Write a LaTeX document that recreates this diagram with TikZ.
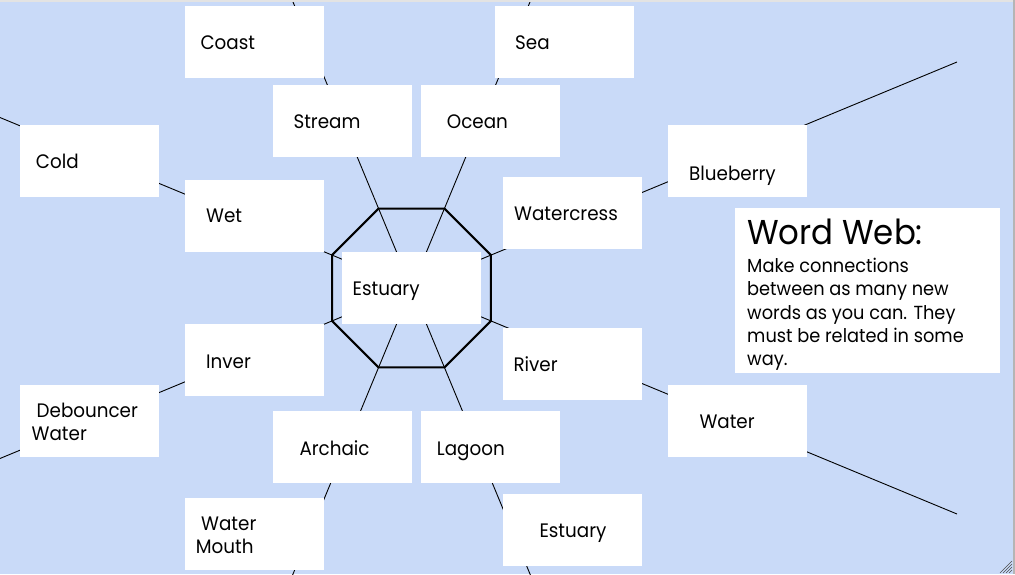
\documentclass[tikz,border=0pt]{standalone}
\usepackage{fontspec}
\setmainfont{Poppins}[FakeStretch=0.94]
\usetikzlibrary{shapes.geometric}
\definecolor{bgblue}{HTML}{C9DAF8}
\definecolor{topgray}{HTML}{E3E3E3}
\definecolor{sidegray}{HTML}{B5B5B5}
\tikzset{
  box/.style={fill=white, minimum width=139pt, minimum height=72pt, inner sep=0pt, outer sep=0pt},
  word/.style={anchor=base west, inner sep=0pt, text=black, font=\fontsize{19.5}{22.7}\selectfont},
  bodytext/.style={anchor=base west, inner sep=0pt, text=black, font=\fontsize{18.9}{23.2}\selectfont},
  titletext/.style={anchor=base west, inner sep=0pt, text=black, font=\fontsize{34.5}{40}\selectfont},
  spoke/.style={line width=0.9pt, black},
  octo/.style={draw=black, line width=2pt, regular polygon, regular polygon sides=8, minimum size=172pt, inner sep=0pt, outer sep=0pt},
  hatch/.style={line width=0.5pt, black!70},
}
\begin{document}
\begin{tikzpicture}[x=1pt,y=-1pt]
\useasboundingbox (0,0) rectangle (1015,574);
\fill[bgblue] (0,0) rectangle (1015,574);
\fill[topgray] (0,0) rectangle (1015,2);
\fill[sidegray] (1013,0) rectangle (1015,574);

% centre and spoke ends
\coordinate (c) at (411.5,288);
\coordinate (eNE) at (957,62);
\coordinate (eSE) at (957,514);
\coordinate (eNW) at (-134,62);
\coordinate (eSW) at (-134,514);
\coordinate (eNNW) at (185.5,-257.5);
\coordinate (eNNE) at (637.5,-257.5);
\coordinate (eSSW) at (185.5,833.5);
\coordinate (eSSE) at (637.5,833.5);

\begin{scope}
\clip (0,2) rectangle (1013,574);
\draw[spoke] (c) -- (eNE);
\draw[spoke] (c) -- (eSE);
\draw[spoke] (c) -- (eNW);
\draw[spoke] (c) -- (eSW);
\draw[spoke] (c) -- (eNNW);
\draw[spoke] (c) -- (eNNE);
\draw[spoke] (c) -- (eSSW);
\draw[spoke] (c) -- (eSSE);
\end{scope}

\node[octo] (oct) at (c) {};

% boxes
\node[box] (coast) at (254.5,42) {};
\node[box] (sea) at (564.5,42) {};
\node[box] (stream) at (342.5,120.5) {};
\node[box] (ocean) at (490.5,120.5) {};
\node[box] (cold) at (89.5,161) {};
\node[box] (wet) at (254.5,216) {};
\node[box] (watercress) at (572.5,212.5) {};
\node[box] (blueberry) at (737.5,161) {};
\node[box] (estuary) at (411.5,288) {};
\node[box] (inver) at (254.5,360) {};
\node[box] (river) at (572.5,364) {};
\node[box] (debouncer) at (89.5,421) {};
\node[box] (water) at (737.5,421) {};
\node[box] (archaic) at (342.5,447) {};
\node[box] (lagoon) at (490.5,447) {};
\node[box] (mouth) at (254.5,533.5) {};
\node[box] (estuary2) at (572.5,530) {};
\node[fill=white, minimum width=265pt, minimum height=165pt, inner sep=0pt] (info) at (867.5,290.5) {};

% texts
\node[word] (tcoast) at (200.3,49.3) {Coast};
\node[word] (tsea) at (515,49.3) {Sea};
\node[word] (tstream) at (293.3,128.3) {Stream};
\node[word] (tocean) at (446.7,128.3) {Ocean};
\node[word] (tcold) at (35.7,168.3) {Cold};
\node[word] (twet) at (206,222.7) {Wet};
\node[word] (tblue) at (689,180) {Blueberry};
\node[word] (twcress) at (514,220) {Watercress};
\node[word] (test) at (352.5,295) {Estuary};
\node[word] (tinver) at (206,368.3) {Inver};
\node[word] (triver) at (513.3,371.7) {River};
\node[word] (tdeb1) at (36.5,417.3) {Debouncer};
\node[word] (tdeb2) at (31.5,440) {Water};
\node[word] (twater) at (699.3,428.3) {Water};
\node[word] (tarch) at (299.3,455) {Archaic};
\node[word] (tlag) at (436.7,455) {Lagoon};
\node[word] (tmouth1) at (201,530) {Water};
\node[word] (tmouth2) at (195.7,553.3) {Mouth};
\node[word] (test2) at (539.3,537.3) {Estuary};

\node[titletext] (ttitle) at (747,244.3) {Word Web:};
\node[bodytext] (tb1) at (747,272.7) {Make connections};
\node[bodytext] (tb2) at (747,295.9) {between as many new};
\node[bodytext] (tb3) at (747,319) {words as you can. They};
\node[bodytext] (tb4) at (747,342.2) {must be related in some};
\node[bodytext] (tb5) at (747,365.3) {way.};

% resize handle
\draw[hatch] (1000,573) -- (1012,561);
\draw[hatch] (1003,573) -- (1012,564);
\draw[hatch] (1006,573) -- (1012,567);
\draw[hatch] (1009,573) -- (1012,570);
\end{tikzpicture}
\end{document}
